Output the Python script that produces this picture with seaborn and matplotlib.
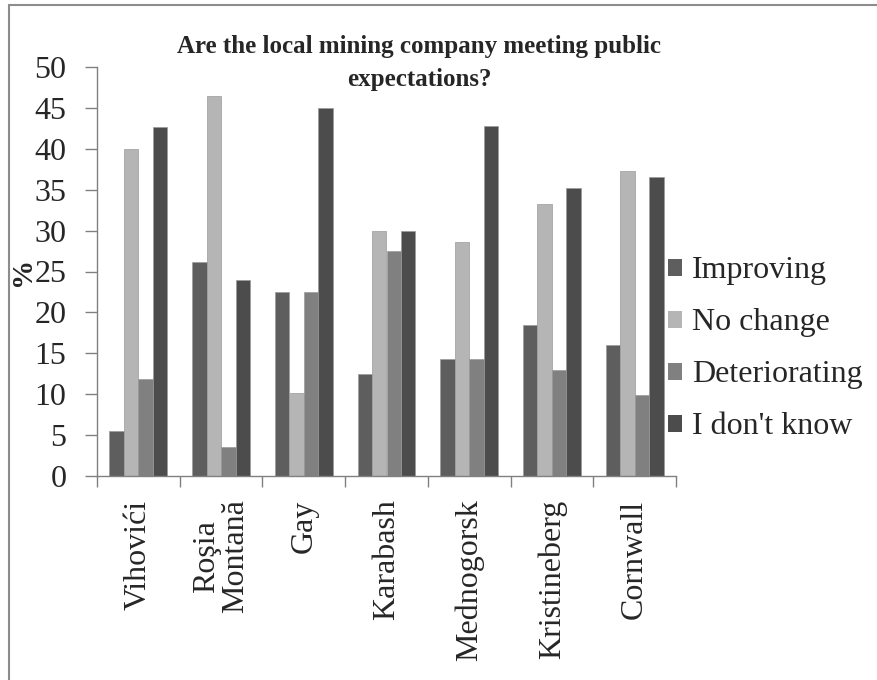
import matplotlib
matplotlib.use("Agg")
import matplotlib.pyplot as plt
import seaborn as sns
import pandas as pd
from matplotlib.lines import Line2D
from matplotlib.patches import Patch

sites = ["Vihovići", "Roşia\nMontană", "Gay", "Karabash", "Mednogorsk", "Kristineberg", "Cornwall"]
series = ["Improving", "No change", "Deteriorating", "I don't know"]
improving = [5.5, 26.2, 22.5, 12.5, 14.3, 18.5, 16.0]
no_change = [40.0, 46.4, 10.1, 30.0, 28.6, 33.3, 37.3]
deteriorating = [11.8, 3.6, 22.5, 27.5, 14.3, 13.0, 9.9]
dont_know = [42.7, 23.9, 45.0, 30.0, 42.8, 35.2, 36.6]
colors = ["#5e5e5e", "#b5b5b5", "#808080", "#4c4c4c"]

rows = []
for name, vals in zip(series, [improving, no_change, deteriorating, dont_know]):
    for s, v in zip(sites, vals):
        rows.append({"site": s, "series": name, "value": v})
df = pd.DataFrame(rows)

sns.set_style("white")
plt.rcParams["font.family"] = ["Liberation Serif", "DejaVu Serif"]

FS = 23
fig = plt.figure(figsize=(8.77, 6.8), dpi=100)
ax = fig.add_axes([97 / 877, 1 - 476 / 680, (676 - 97) / 877, (476 - 67) / 680])

sns.barplot(data=df, x="site", y="value", hue="series", hue_order=series,
            order=sites, palette=colors, width=0.7, ax=ax,
            edgecolor="#9a9a9a", linewidth=0.5, legend=False, saturation=1)

ax.set_ylim(0, 50)
ax.set_xlim(-0.5, len(sites) - 0.5)
ax.set_yticks(range(0, 51, 5))
ax.tick_params(axis="y", labelsize=FS, length=9, width=1, color="#808080",
               direction="out", left=True, pad=13)
ax.set_xticks(range(len(sites)))
ax.set_xticklabels(sites, rotation=90, fontsize=FS, va="top", ha="center",
                   multialignment="center", linespacing=1.0)
ax.set_xticks([i - 0.5 for i in range(len(sites) + 1)], minor=True)
ax.tick_params(axis="x", which="major", length=0, pad=17)
ax.tick_params(axis="x", which="minor", length=8, width=1, color="#808080",
               direction="out", bottom=True)
for side in ["top", "right"]:
    ax.spines[side].set_visible(False)
for side in ["left", "bottom"]:
    ax.spines[side].set_color("#808080")
    ax.spines[side].set_linewidth(1)
ax.set_xlabel("")
ax.set_ylabel("%", fontsize=21, fontweight="bold")
ax.yaxis.set_label_coords((36 - 97) / 579, 0.5)

fig.text(419 / 877, 1 - 63 / 680, "Are the local mining company meeting public\nexpectations?",
         ha="center", va="center", fontsize=18, fontweight="bold", linespacing=1.6)

handles = [Patch(facecolor=c, edgecolor="none") for c in colors]
fig.legend(handles, series, loc="center left", bbox_to_anchor=(668 / 877, 1 - 349 / 680),
           frameon=False, fontsize=FS, handlelength=0.45, handleheight=0.45,
           handletextpad=0.3, labelspacing=0.72, borderaxespad=0, borderpad=0)

# chart-area border (only left and top edges visible in the reference)
fig.add_artist(Line2D([9 / 877, 9 / 877], [0, 1 - 5 / 680], transform=fig.transFigure,
                      color="#8c8c8c", linewidth=1.5))
fig.add_artist(Line2D([9 / 877, 1], [1 - 5 / 680, 1 - 5 / 680], transform=fig.transFigure,
                      color="#8c8c8c", linewidth=1.5))

fig.savefig("out.png", dpi=100)
